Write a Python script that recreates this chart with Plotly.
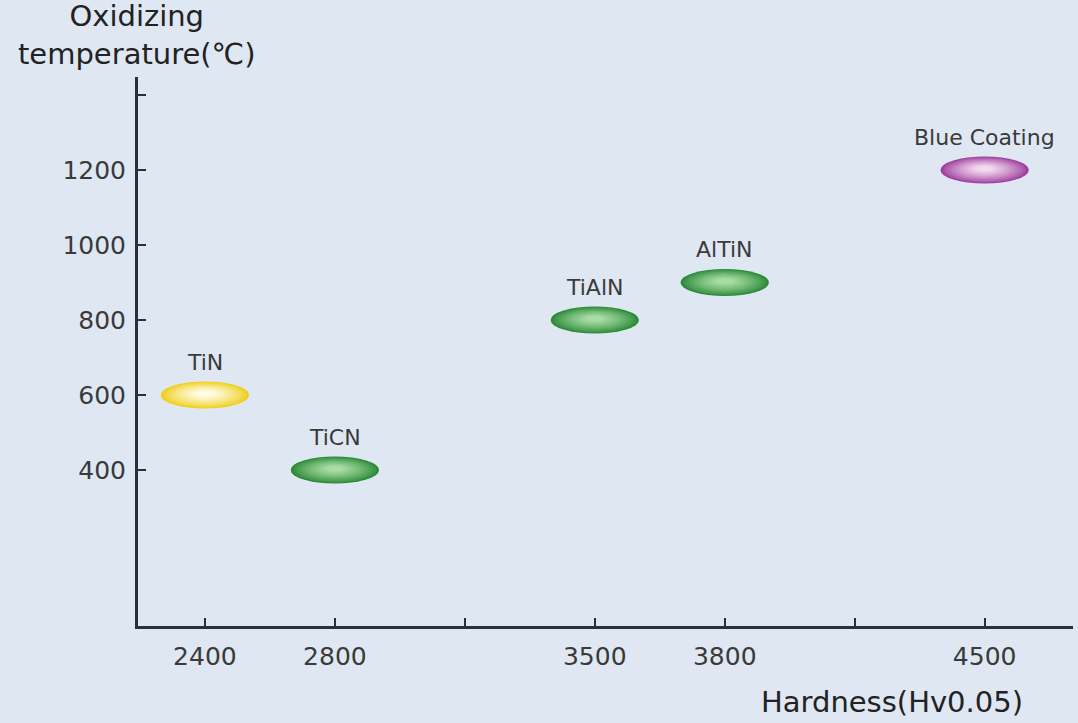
import plotly.graph_objects as go
import numpy as np

# ---- data ----
coatings = ["TiN", "TiCN", "TiAlN", "AlTiN", "Blue Coating"]
hardness = [2400, 2800, 3500, 3800, 4500]
temperature = [600, 400, 800, 900, 1200]
x_tick_labels = ["2400", "2800", "", "3500", "3800", "", "4500"]
y_tick_values = [400, 600, 800, 1000, 1200, 1400]
y_tick_labels = ["400", "600", "800", "1000", "1200", ""]
rim_colors = ["#efcf1c", "#2c8a38", "#2c8a38", "#2c8a38", "#9e3f9c"]
core_colors = ["#fffce6", "#a8dca4", "#a8dca4", "#a8dca4", "#f3d8f0"]

BG = "#dfe7f3"
AX = "#2b2f36"
TXT = "#3a3a3a"
FONT = "DejaVu Sans, Liberation Sans"

# x is an evenly spaced category-like axis
xpos = [x_tick_labels.index(str(h)) for h in hardness]

fig = go.Figure()

def hex2rgb(h):
    h = h.lstrip("#")
    return np.array([int(h[i:i + 2], 16) for i in (0, 2, 4)], dtype=float)

def mix(c1, c2, t):
    c = hex2rgb(c1) * (1 - t) + hex2rgb(c2) * t
    return "rgb(%d,%d,%d)" % tuple(np.round(c).astype(int))

ew, eh = 0.68, 72.0  # ellipse size in data units
shapes = []
nlayers = 14
for xp, yv, rc, cc in zip(xpos, temperature, rim_colors, core_colors):
    for k in range(nlayers):
        t = k / (nlayers - 1)
        s = 1.0 - 0.8 * t
        w, h = ew * s, eh * s
        cx, cy = xp, yv + eh * 0.05 * t
        shapes.append(dict(type="circle", xref="x", yref="y",
                           x0=cx - w / 2, x1=cx + w / 2,
                           y0=cy - h / 2, y1=cy + h / 2,
                           fillcolor=mix(rc, cc, t ** 0.8),
                           line=dict(width=0), layer="above"))

fig.add_trace(go.Scatter(x=xpos, y=temperature, mode="markers",
                         marker=dict(size=1, color="rgba(0,0,0,0)"),
                         text=coatings, hoverinfo="text", showlegend=False))

annotations = []
for xp, yv, name in zip(xpos, temperature, coatings):
    annotations.append(dict(x=xp, y=yv, xref="x", yref="y", text=name,
                            showarrow=False, yshift=33,
                            font=dict(family=FONT, size=22, color=TXT)))

annotations.append(dict(xref="paper", yref="paper", x=-0.002, y=1.008,
                        xanchor="center", yanchor="bottom",
                        text="Oxidizing<br>temperature(℃)", showarrow=False, align="center",
                        font=dict(family=FONT, size=29, color="#222222")))
annotations.append(dict(xref="paper", yref="paper", x=0.949, y=-0.104,
                        xanchor="right", yanchor="top",
                        text="Hardness(Hv0.05)", showarrow=False,
                        font=dict(family=FONT, size=29, color="#222222")))

fig.update_layout(
    width=1078, height=723,
    paper_bgcolor=BG, plot_bgcolor=BG,
    margin=dict(l=138, r=5, t=77, b=97),
    shapes=shapes, annotations=annotations,
    showlegend=False,
    xaxis=dict(range=[-0.515, 6.68], tickmode="array",
               tickvals=list(range(len(x_tick_labels))), ticktext=x_tick_labels,
               showgrid=False, zeroline=False, showline=True, linecolor=AX, linewidth=3,
               ticks="inside", ticklen=8, tickwidth=2, tickcolor=AX, ticklabelstandoff=6,
               tickfont=dict(family=FONT, size=25, color=TXT)),
    yaxis=dict(range=[-16, 1448], tickmode="array",
               tickvals=y_tick_values, ticktext=y_tick_labels,
               showgrid=False, zeroline=False, showline=True, linecolor=AX, linewidth=3,
               ticks="inside", ticklen=8, tickwidth=2, tickcolor=AX, ticklabelstandoff=4,
               tickfont=dict(family=FONT, size=25, color=TXT)),
)

fig.write_html("out.html", config={"displayModeBar": False},
               post_script="document.body.style.margin='0';")
